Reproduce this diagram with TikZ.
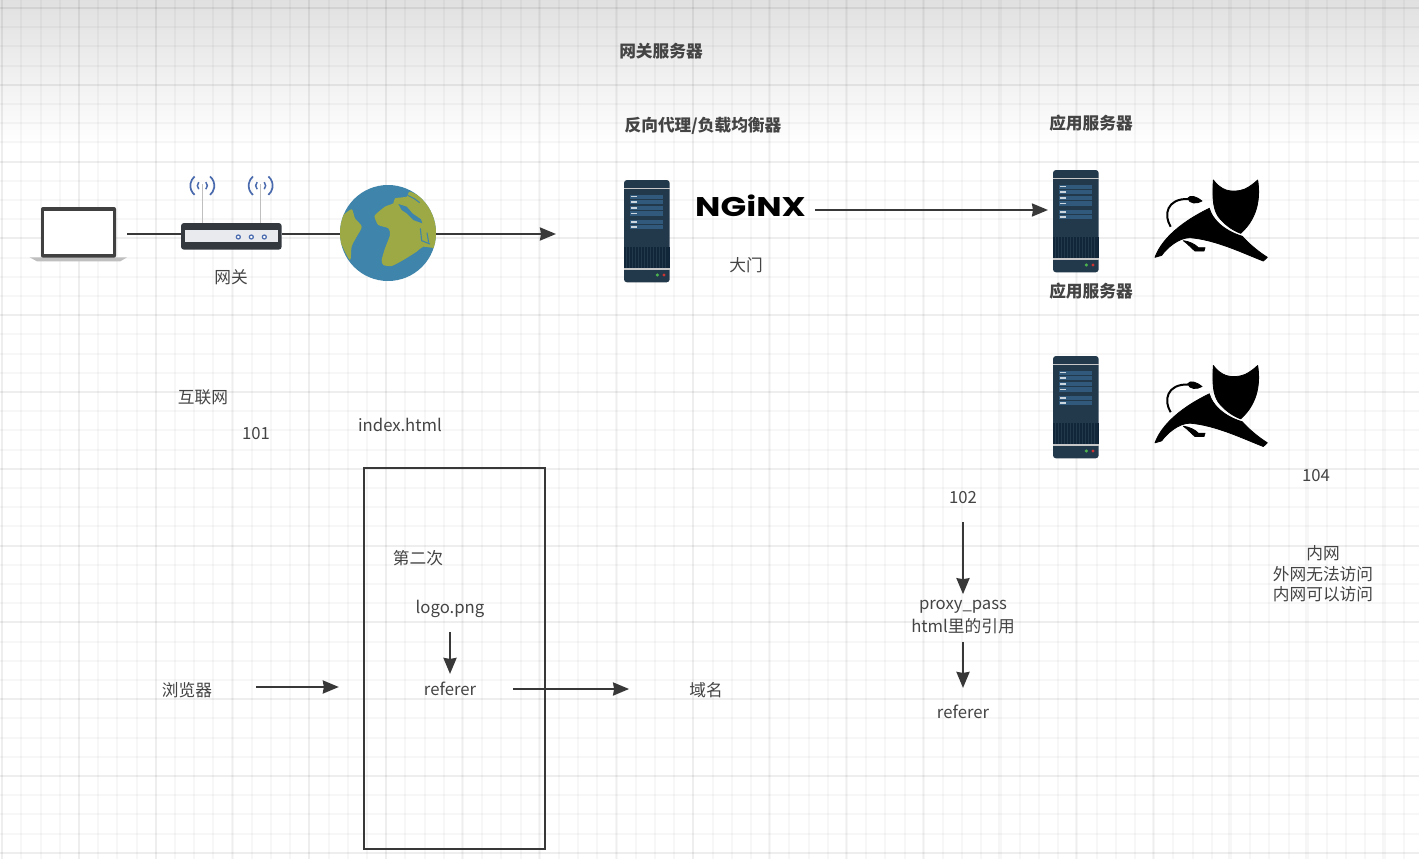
\documentclass[tikz,border=0pt]{standalone}
\usepackage{fontspec}
\usepackage{graphicx}
\setmainfont{Noto Sans CJK SC}
\newfontfamily\logofont{Poppins}
\usetikzlibrary{arrows.meta}

\definecolor{inktext}{HTML}{444444}
\definecolor{inkline}{HTML}{383838}
\definecolor{rackbody}{HTML}{22394C}
\definecolor{rackbar}{HTML}{30597C}
\definecolor{rackgrill}{HTML}{12263A}
\definecolor{wifiblue}{HTML}{4A6AAE}
\definecolor{oceanblue}{HTML}{3F84AA}
\definecolor{landgreen}{HTML}{9CA945}
\definecolor{modembody}{HTML}{33393F}
\definecolor{modemface}{HTML}{E8EAEE}

\tikzset{
  plaintext/.style={inner sep=0pt,text=inktext,align=center,font=\fontsize{16.7}{20.5}\selectfont},
  headtext/.style={plaintext,font=\fontsize{16.7}{20.5}\selectfont\bfseries},
  link/.style={draw=inkline,line width=2.3pt,-{Stealth[length=16pt,width=13pt,inset=1pt]}},
  wire/.style={draw=inkline,line width=2.3pt},
  iconslot/.style={inner sep=0pt,outer sep=0pt},
  catshape/.style={fill=black,draw=black,line width=.8pt,line join=round},
  pics/rack/.style={code={
    \begin{scope}[scale=1/3]
      \fill[rackbody,rounded corners=3pt] (0,0) rectangle (137,307);
      \fill[rackgrill] (0,200) rectangle (137,263);
      \foreach \gx in {8,17,...,130} \draw[rackbody,line width=.5pt] (\gx,200) -- (\gx,263);
      \fill[black!22] (0,24) rectangle (137,28);
      \fill[black!22] (0,265) rectangle (137,270);
      \foreach \by in {44,60,78,94,120,135} {
        \fill[rackbar] (18,\by) rectangle (118,\by+13);
        \fill[white!75!rackbar] (20,\by+4) rectangle (38,\by+8);
      }
      \fill[green!40!gray] (100,285) circle (5);
      \fill[red!60!gray] (120,285) circle (5);
    \end{scope}
  }},
  pics/tomcat/.style={code={
    \begin{scope}[scale=1/3]
      % Head
      \path[catshape] (190,15) .. controls (200,30) and (215,40) .. (228,45) .. controls (245,50) and (265,50) .. (285,42)
        .. controls (300,35) and (312,25) .. (323,15) .. controls (330,60) and (328,125) .. (272,175)
        .. controls (245,165) and (220,145) .. (205,125) .. controls (192,105) and (186,80) .. (190,15) -- cycle;
      % Body
      \path[catshape] (15,247) .. controls (30,205) and (75,150) .. (178,100) .. controls (185,128) and (215,165) .. (277,184)
        .. controls (295,205) and (325,230) .. (352,247) -- (340,258) .. controls (280,235) and (200,195) .. (120,188)
        .. controls (85,188) and (50,220) .. (35,241) -- cycle;
      % Tail
      \draw[black,line width=2pt] (62,155) .. controls (40,120) and (50,70) .. (115,72);
      \path[catshape] (113,70) .. controls (120,58) and (140,65) .. (156,78) .. controls (140,88) and (118,86) .. (113,70) -- cycle;
      % Hind leg
      \path[catshape] (100,197) .. controls (120,200) and (135,208) .. (145,218) -- (165,218) -- (162,228) -- (135,228) .. controls (125,220) and (115,208) .. (100,197) -- cycle;
    \end{scope}
  }},
  pics/notebook/.style={code={
    \begin{scope}[scale=1/3]
      \fill[black!25] (-34,151) -- (258,151) -- (238,163) -- (-12,163) -- cycle;
      \fill[black!75,rounded corners=2pt] (0,0) rectangle (225,152);
      \fill[white] (10,12) rectangle (215,142);
    \end{scope}
  }},
  pics/modem/.style={code={
    \begin{scope}[scale=1/3]
      \foreach \ax in {64,239} {
        \draw[black!25,line width=1.5pt] (\ax,0) -- (\ax,-118);
        \draw[wifiblue,line width=1.5pt] (\ax,-112) ++(-45:15) arc (-45:45:15);
        \draw[wifiblue,line width=1.5pt] (\ax,-112) ++(135:15) arc (135:225:15);
        \draw[wifiblue,line width=1.7pt] (\ax,-112) ++(-50:36) arc (-50:50:36);
        \draw[wifiblue,line width=1.7pt] (\ax,-112) ++(130:36) arc (130:230:36);
      }
      \fill[modembody,rounded corners=3pt] (0,0) rectangle (302,80);
      \fill[modemface] (12,22) rectangle (290,58);
      \foreach \cx in {172,211,250} \draw[wifiblue,fill=white,line width=1.2pt] (\cx,42) circle (6);
    \end{scope}
  }},
  pics/earth/.style={code={
    \begin{scope}[scale=1/3]
      \fill[oceanblue] (159,159) circle (144);
      \begin{scope}
        \clip (159,159) circle (144);
        % Left land
        \fill[landgreen] plot[smooth cycle,tension=.5] coordinates {(5,120) (25,105) (50,88) (60,115) (80,140) (65,170) (50,200) (45,240) (20,195) (5,160)};
        % Main land
        \fill[landgreen] plot[smooth cycle,tension=.4] coordinates {(120,105) (150,80) (175,70) (180,55) (215,50) (225,35) (270,60) (310,110) (310,200) (265,200) (245,215) (205,240) (170,258) (145,255) (140,240) (150,205) (165,165) (160,145) (130,135) (120,115)};
        % Inland seas
        \fill[oceanblue] (190,72) -- (215,80) -- (232,100) -- (258,118) -- (262,130) -- (235,120) -- (215,100) -- (200,90) -- cycle;
        \draw[oceanblue,line width=1.1pt] (218,46) -- (238,56) -- (254,68);
        \draw[oceanblue,line width=1.1pt] (256,145) -- (260,182) -- (285,192);
        \draw[oceanblue,line width=1.1pt] (276,158) -- (281,188);
      \end{scope}
    \end{scope}
  }}
}

\begin{document}
\begin{tikzpicture}[x=1pt,y=-1pt]
  % Boundary
  \path[use as bounding box] (0,0) rectangle (1419,859);
  % Background
  \shade[top color=black!12,bottom color=white] (0,0) rectangle (1419,146);
  \fill[white] (0,146) rectangle (1419,859);
  % Grid
  \foreach \gx in {2.2,21.4,...,1419} \draw[black,opacity=.03,line width=2pt] (\gx,0) -- (\gx,859);
  \foreach \gy in {8,27.2,...,859} \draw[black,opacity=.03,line width=2pt] (0,\gy) -- (1419,\gy);
  \foreach \gx in {2.2,78.9,...,1419} \draw[black,opacity=.035,line width=2pt] (\gx,0) -- (\gx,859);
  \foreach \gy in {8,84.8,...,859} \draw[black,opacity=.035,line width=2pt] (0,\gy) -- (1419,\gy);

  % Icon slots
  \node[iconslot,minimum width=97pt,minimum height=55pt] (laptop) at (78.5,234) {};
  \node[iconslot,minimum width=101pt,minimum height=26pt] (router) at (231.5,234) {};
  \node[iconslot,circle,minimum size=96pt] (globe) at (388,234) {};
  \node[iconslot,minimum width=46pt,minimum height=102pt] (rackgate) at (647,231) {};
  \node[iconslot,minimum width=46pt,minimum height=102pt] (rackone) at (1076,221) {};
  \node[iconslot,minimum width=46pt,minimum height=102pt] (racktwo) at (1076,407) {};
  \coordinate (netend) at (556,234);

  % Connectors behind the icons
  \draw[wire] (laptop.east) -- (router.west);
  \draw[wire] (router.east) -- (globe.west);
  \draw[link] (globe.east) -- (netend);

  % Icons
  \pic at (41,207) {notebook};
  \pic at (181,223) {modem};
  \pic at (335,180) {earth};
  \pic at (rackgate.north west) {rack};
  \pic at (rackone.north west) {rack};
  \pic at (racktwo.north west) {rack};
  \pic at (1150,175) {tomcat};
  \pic at (1150,360.5) {tomcat};

  % Nginx
  \node[iconslot,inner xsep=9pt,font=\logofont\bfseries\fontsize{27}{27}\selectfont] (nginx) at (750.5,206) {\scalebox{1.25}[1]{NGiNX}};
  \draw[link,shorten >=5pt] ([yshift=-4pt]nginx.east) -- ([yshift=-4pt]nginx.east -| rackone.west);

  % Headings
  \node[headtext] (gatetitle) at (661,51) {网关服务器};
  \node[headtext] (proxytitle) at (703,126) {反向代理/负载均衡器};
  \node[headtext] (apptitleone) at (1091,123) {应用服务器};
  \node[headtext] (apptitletwo) at (1091,291) {应用服务器};

  % Labels
  \node[plaintext] (routertext) at (231,277) {网关};
  \node[plaintext] (doortext) at (746,265) {大门};
  \node[plaintext] (nettext) at (203,397) {互联网};
  \node[plaintext] (ipa) at (256,434) {101};
  \node[plaintext] (indextext) at (400,425) {index.html};
  \node[plaintext] (ipb) at (963,498) {102};
  \node[plaintext] (ipd) at (1316,476) {104};
  \node[plaintext] (lantext) at (1323,574) {内网\\外网无法访问\\内网可以访问};

  % Page box
  \node[draw=inkline,line width=2.3pt,inner sep=0pt,minimum width=181pt,minimum height=381pt] (pagebox) at (454.5,658.5) {};
  \node[plaintext] (secondtext) at (418,558) {第二次};
  \node[plaintext] (logotext) at (450,609) {logo.png};
  \node[plaintext] (refererin) at (450,689) {referer};
  \draw[link,shorten <=14pt,shorten >=8pt] (logotext) -- (refererin);

  % Browser to domain
  \node[plaintext] (browsertext) at (187,690) {浏览器};
  \node[plaintext] (domaintext) at (706,690) {域名};
  \draw[link,shorten <=44pt,shorten >=24pt] ([yshift=3pt]browsertext.east) -- ([yshift=3pt]browsertext.east -| pagebox.west);
  \draw[link,shorten <=37pt,shorten >=60pt] (refererin.east) -- (refererin.east -| domaintext.west);

  % Proxy column
  \node[plaintext] (proxytext) at (963,617) {proxy\_pass\\[2pt]html里的引用};
  \node[plaintext] (refererout) at (963,712) {referer};
  \draw[link,shorten <=18pt,shorten >=6pt] (ipb) -- (proxytext);
  \draw[link,shorten <=8pt,shorten >=17pt] (proxytext) -- (refererout);
\end{tikzpicture}
\end{document}
